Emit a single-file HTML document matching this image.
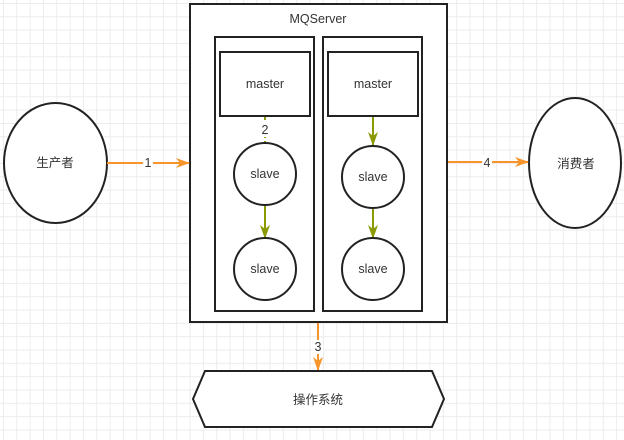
<!DOCTYPE html>
<html><head><meta charset="utf-8"><style>
html,body{margin:0;padding:0;width:624px;height:440px;overflow:hidden;background:#fff;
background-image:linear-gradient(#ececec 1px,transparent 1px),linear-gradient(90deg,#ececec 1px,transparent 1px);
background-size:13.33px 13.33px;background-position:3px 3px;}
svg{position:absolute;left:0;top:0}
text{font-family:"Liberation Sans","Noto Sans CJK SC",sans-serif;font-size:12.5px;fill:#333;text-anchor:middle;dominant-baseline:central}
</style></head><body>
<svg width="624" height="440" viewBox="0 0 624 440">
<defs>
<marker id="ao" markerWidth="14" markerHeight="12" refX="13" refY="6" orient="auto" markerUnits="userSpaceOnUse"><path d="M0,1 L14,6 L0,11 L4,6z" fill="#f7952c"/></marker>
<marker id="ag" markerWidth="14" markerHeight="12" refX="13" refY="6" orient="auto" markerUnits="userSpaceOnUse"><path d="M0,1 L14,6 L0,11 L4,6z" fill="#8a9a00"/></marker>
</defs>
<rect x="190" y="4" width="257" height="318" fill="#fff" stroke="#222" stroke-width="2"/>
<text x="318" y="19">MQServer</text>
<rect x="215" y="37" width="99" height="274" fill="#fff" stroke="#222" stroke-width="2"/>
<rect x="323" y="37" width="99" height="274" fill="#fff" stroke="#222" stroke-width="2"/>
<rect x="220" y="52" width="90" height="64" fill="#fff" stroke="#222" stroke-width="2"/>
<rect x="328" y="52" width="90" height="64" fill="#fff" stroke="#222" stroke-width="2"/>
<text x="265" y="84">master</text><text x="373" y="84">master</text>
<line x1="265" y1="117" x2="265" y2="143" stroke="#8a9a00" stroke-width="2" stroke-dasharray="3,3"/>
<rect x="259" y="123" width="12" height="14" fill="#fff"/>
<text x="265" y="130">2</text>
<line x1="373" y1="117" x2="373" y2="145" stroke="#8a9a00" stroke-width="2" marker-end="url(#ag)"/>
<line x1="265" y1="206" x2="265" y2="238" stroke="#8a9a00" stroke-width="2" marker-end="url(#ag)"/>
<line x1="373" y1="209" x2="373" y2="238" stroke="#8a9a00" stroke-width="2" marker-end="url(#ag)"/>
<circle cx="265" cy="174" r="31" fill="#fff" stroke="#222" stroke-width="2"/>
<circle cx="265" cy="269" r="31" fill="#fff" stroke="#222" stroke-width="2"/>
<circle cx="373" cy="177" r="31" fill="#fff" stroke="#222" stroke-width="2"/>
<circle cx="373" cy="269" r="31" fill="#fff" stroke="#222" stroke-width="2"/>
<text x="265" y="174">slave</text><text x="265" y="269">slave</text>
<text x="373" y="177">slave</text><text x="373" y="269">slave</text>
<ellipse cx="55.5" cy="163" rx="51.5" ry="60" fill="#fff" stroke="#222" stroke-width="2"/>
<text x="55" y="163">生产者</text>
<ellipse cx="575" cy="163" rx="46" ry="65" fill="#fff" stroke="#222" stroke-width="2"/>
<text x="576" y="164">消费者</text>
<line x1="107" y1="163" x2="189" y2="163" stroke="#f7952c" stroke-width="2" marker-end="url(#ao)"/>
<rect x="143" y="156" width="10" height="14" fill="#fff"/><text x="148" y="163">1</text>
<line x1="448" y1="162" x2="528" y2="162" stroke="#f7952c" stroke-width="2" marker-end="url(#ao)"/>
<rect x="482" y="155" width="10" height="14" fill="#fff"/><text x="487" y="163">4</text>
<line x1="318" y1="323" x2="318" y2="370" stroke="#f7952c" stroke-width="2" marker-end="url(#ao)"/>
<rect x="313" y="340" width="10" height="14" fill="#fff"/><text x="318" y="347">3</text>
<polygon points="205,371 432,371 444,399 432,427 205,427 193,399" fill="#fff" stroke="#222" stroke-width="2"/>
<text x="318" y="400">操作系统</text>
</svg>
</body></html>
